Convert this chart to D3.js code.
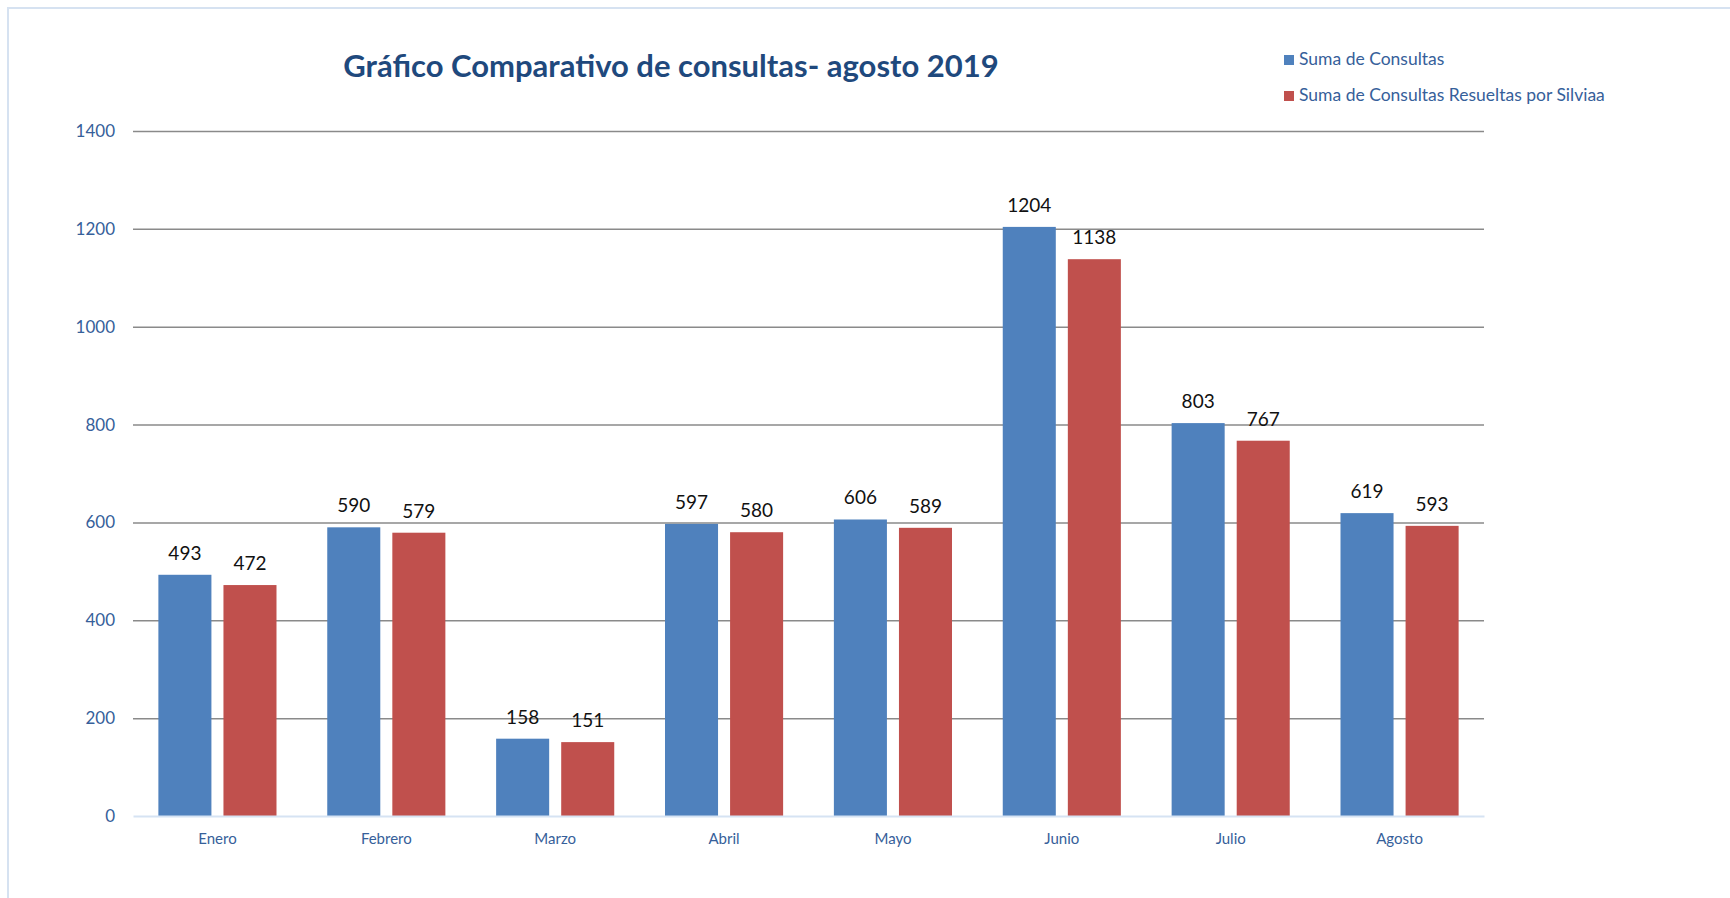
<!DOCTYPE html>
<html>
<head>
<meta charset="utf-8">
<script src="https://cdn.jsdelivr.net/npm/d3@7"></script>
<style>
  html, body { margin: 0; padding: 0; background: #fff; }
  svg { display: block; font-family: Lato, "Open Sans", sans-serif; }
</style>
</head>
<body>
<div id="chart"></div>
<script>
// Data
const months = ["Enero", "Febrero", "Marzo", "Abril", "Mayo", "Junio", "Julio", "Agosto"];
const seriesNames = ["Suma de Consultas", "Suma de Consultas Resueltas por Silviaa"];
const consultas = [493, 590, 158, 597, 606, 1204, 803, 619];
const resueltas = [472, 579, 151, 580, 589, 1138, 767, 593];
const yTicks = [0, 200, 400, 600, 800, 1000, 1200, 1400];
const colors = ["#4f81bd", "#c0504d"];

// Setup
const width = 1730, height = 898;
const plot = { left: 133, right: 1484, top: 131, bottom: 816 };

const svg = d3.select("#chart").append("svg")
  .attr("width", width)
  .attr("height", height);

// Outer frame (only top and left edges are visible)
svg.append("path")
  .attr("d", `M8,${height + 5} V8 H${width + 5}`)
  .attr("fill", "none")
  .attr("stroke", "#d6e2f1")
  .attr("stroke-width", 2);

// Scales
const x0 = d3.scaleBand().domain(months).range([plot.left, plot.right]);
const x1 = d3.scaleBand().domain(seriesNames).range([0, x0.bandwidth()])
  .paddingInner(0.185).paddingOuter(0.39);
const y = d3.scaleLinear().domain([0, 1400]).range([plot.bottom, plot.top]);

// Gridlines + y labels
const yAxis = d3.axisLeft(y).tickValues(yTicks).tickFormat(d3.format("d"))
  .tickSize(-(plot.right - plot.left)).tickPadding(18);
const gy = svg.append("g")
  .attr("transform", `translate(${plot.left},0)`)
  .call(yAxis);
gy.select(".domain").remove();
gy.selectAll(".tick line").attr("stroke", "#8a8a8a").attr("stroke-width", 1.5)
  .attr("x1", 0);
gy.selectAll(".tick").filter(d => d === 0).select("line").remove();
gy.selectAll(".tick text")
  .attr("fill", "#36609a")
  .attr("font-size", 17)
  .attr("font-family", "Lato, sans-serif");

// Bars
const rows = months.map((m, i) => ({ month: m, values: [consultas[i], resueltas[i]] }));

const groups = svg.append("g").selectAll("g")
  .data(rows)
  .join("g")
  .attr("transform", d => `translate(${x0(d.month)},0)`);

groups.selectAll("rect")
  .data(d => d.values.map((v, k) => ({ key: seriesNames[k], value: v, k })))
  .join("rect")
  .attr("x", d => x1(d.key))
  .attr("y", d => y(d.value))
  .attr("width", x1.bandwidth())
  .attr("height", d => y(0) - y(d.value))
  .attr("fill", d => colors[d.k]);

groups.selectAll("text.val")
  .data(d => d.values.map((v, k) => ({ key: seriesNames[k], value: v })))
  .join("text")
  .attr("class", "val")
  .attr("x", d => x1(d.key) + x1.bandwidth() / 2)
  .attr("y", d => y(d.value) - 15)
  .attr("text-anchor", "middle")
  .attr("font-size", 19)
  .attr("fill", "#111")
  .text(d => d.value);

// X axis
const xAxis = d3.axisBottom(x0).tickSize(0).tickPadding(17);
const gx = svg.append("g")
  .attr("transform", `translate(0,${plot.bottom})`)
  .call(xAxis);
gx.select(".domain").attr("stroke", "#d6e3f3").attr("stroke-width", 2);
gx.selectAll(".tick text")
  .attr("fill", "#36609a")
  .attr("font-size", 15)
  .attr("font-family", "Lato, sans-serif");

// Title
svg.append("text")
  .attr("x", 671)
  .attr("y", 77)
  .attr("text-anchor", "middle")
  .attr("font-size", 31)
  .attr("font-weight", "bold")
  .attr("fill", "#1f497d")
  .text("Gráfico Comparativo de consultas- agosto 2019");

// Legend
const legend = svg.append("g").attr("transform", "translate(1284,0)");
const legendItems = legend.selectAll("g")
  .data(seriesNames)
  .join("g")
  .attr("transform", (d, i) => `translate(0,${55 + i * 36})`);
legendItems.append("rect")
  .attr("width", 10).attr("height", 10)
  .attr("fill", (d, i) => colors[i]);
legendItems.append("text")
  .attr("x", 15)
  .attr("y", 10)
  .attr("font-size", 17.5)
  .attr("fill", "#36609a")
  .text(d => d);
</script>
</body>
</html>
